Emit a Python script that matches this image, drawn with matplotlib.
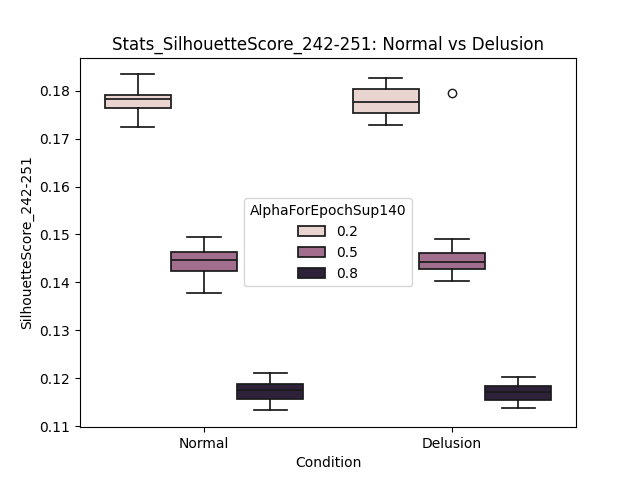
import matplotlib
matplotlib.use("Agg")
import matplotlib.pyplot as plt
import seaborn as sns
from matplotlib.patches import Patch

# box statistics (whisker low, q1, median, q3, whisker high)
conditions = ["Normal", "Delusion"]
alphas = ["0.2", "0.5", "0.8"]

normal_low = [0.1724, 0.1377, 0.1133]
normal_q1 = [0.1763, 0.1423, 0.1157]
normal_med = [0.1783, 0.1446, 0.1175]
normal_q3 = [0.1791, 0.1464, 0.1188]
normal_high = [0.1834, 0.1494, 0.1212]
normal_fliers = [[], [], []]

delusion_low = [0.1728, 0.1404, 0.1139]
delusion_q1 = [0.1753, 0.1429, 0.1155]
delusion_med = [0.1776, 0.1442, 0.1171]
delusion_q3 = [0.1803, 0.1461, 0.1184]
delusion_high = [0.1826, 0.1490, 0.1202]
delusion_fliers = [[], [0.1795], []]

cmap = sns.cubehelix_palette(as_cmap=True)
colors = [sns.desaturate(cmap(v), 0.75) for v in (0.0, 0.5, 1.0)]
linecolor = "#1a1a1a"

fig, ax = plt.subplots(figsize=(6.4, 4.8), dpi=100)

groups = [
    (normal_low, normal_q1, normal_med, normal_q3, normal_high, normal_fliers),
    (delusion_low, delusion_q1, delusion_med, delusion_q3, delusion_high, delusion_fliers),
]
width = 0.8 / len(alphas)
for ci, (lo, q1, med, q3, hi, fl) in enumerate(groups):
    for hi_i in range(len(alphas)):
        pos = ci - 0.4 + width * (hi_i + 0.5)
        stats = [dict(whislo=lo[hi_i], q1=q1[hi_i], med=med[hi_i], q3=q3[hi_i],
                      whishi=hi[hi_i], fliers=fl[hi_i])]
        ax.bxp(stats, positions=[pos], widths=width, patch_artist=True,
               manage_ticks=False,
               boxprops=dict(facecolor=colors[hi_i], edgecolor=linecolor, linewidth=1.25),
               medianprops=dict(color=linecolor, linewidth=1.25),
               whiskerprops=dict(color=linecolor, linewidth=1.25),
               capprops=dict(color=linecolor, linewidth=1.25),
               capwidths=width / 2,
               flierprops=dict(marker="o", markerfacecolor="none",
                               markeredgecolor=linecolor, markersize=6))

ax.set_xlim(-0.5, 1.5)
ax.set_xticks(range(len(conditions)))
ax.set_xticklabels(conditions)
ax.set_xlabel("Condition")
ax.set_ylabel("SilhouetteScore_242-251")
ax.set_title("Stats_SilhouetteScore_242-251: Normal vs Delusion")

handles = [Patch(facecolor=c, edgecolor=linecolor, linewidth=1.25) for c in colors]
ax.legend(handles, alphas, title="AlphaForEpochSup140", loc="center")

fig.savefig("out.png")
